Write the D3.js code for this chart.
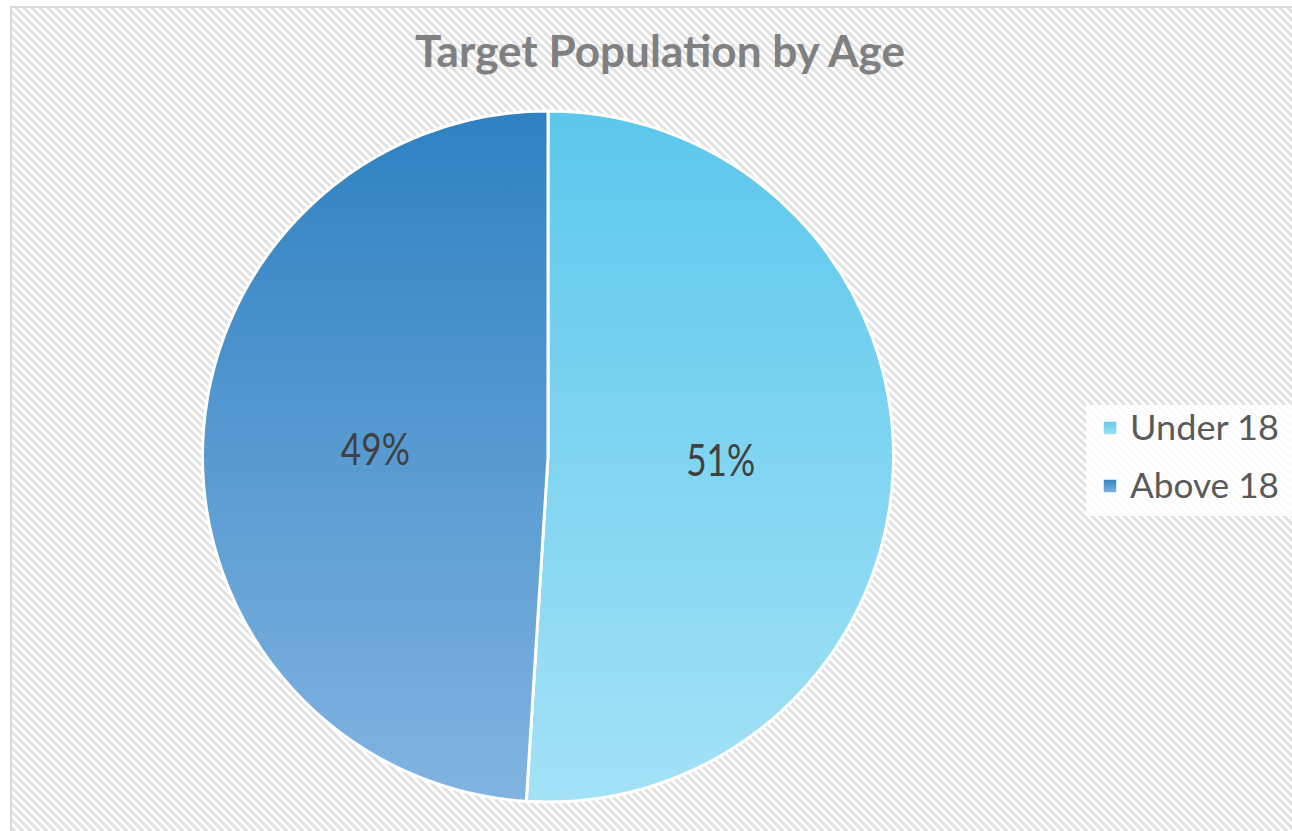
<!DOCTYPE html>
<html>
<head>
<meta charset="utf-8">
<script src="https://cdn.jsdelivr.net/npm/d3@7"></script>
<style>
  html, body { margin: 0; padding: 0; background: #ffffff; }
  svg { display: block; }
</style>
</head>
<body>
<svg id="chart" width="1292" height="831"></svg>
<script>
const title = "Target Population by Age";
const categories = ["Under 18", "Above 18"];
const values = [51, 49];
const labels = ["51%", "49%"];
const gradTop = ["#5BC7EC", "#2E81C1"];
const gradBottom = ["#A4E2F6", "#82B4E1"];

const W = 1292, H = 831;
const svg = d3.select("#chart");
const defs = svg.append("defs");

// hatch pattern background
const pat = defs.append("pattern")
  .attr("id", "hatch").attr("patternUnits", "userSpaceOnUse")
  .attr("width", 8).attr("height", 8);
pat.append("rect").attr("width", 8).attr("height", 8).attr("fill", "#ffffff");
pat.append("path")
  .attr("d", "M-2,-2 L10,10 M-2,6 L2,10 M6,-2 L10,2")
  .attr("stroke", "#e1e1e1").attr("stroke-width", 2.9);

svg.append("rect").attr("x", 11).attr("y", 7).attr("width", W).attr("height", H)
  .attr("fill", "url(#hatch)").attr("stroke", "#d9d9d9").attr("stroke-width", 2);

// title
svg.append("text").attr("x", 660).attr("y", 67)
  .attr("text-anchor", "middle")
  .attr("font-family", "Lato, 'Open Sans', sans-serif")
  .attr("font-weight", "bold").attr("font-size", 43)
  .attr("fill", "#808080")
  .attr("textLength", 490).attr("lengthAdjust", "spacingAndGlyphs")
  .text(title);

// pie
const cx = 548, cy = 456.5, r = 345.5;
const pie = d3.pie().sort(null).value(d => d)(values);
const arc = d3.arc().innerRadius(0).outerRadius(r);

categories.forEach((c, i) => {
  const g = defs.append("linearGradient").attr("id", "grad" + i)
    .attr("gradientUnits", "userSpaceOnUse")
    .attr("x1", 0).attr("y1", -r).attr("x2", 0).attr("y2", r);
  g.append("stop").attr("offset", "0%").attr("stop-color", gradTop[i]);
  g.append("stop").attr("offset", "100%").attr("stop-color", gradBottom[i]);
  const lg = defs.append("linearGradient").attr("id", "lgrad" + i)
    .attr("x1", 0).attr("y1", 0).attr("x2", 0).attr("y2", 1);
  lg.append("stop").attr("offset", "0%").attr("stop-color", gradTop[i]);
  lg.append("stop").attr("offset", "100%").attr("stop-color", gradBottom[i]);
});

const pg = svg.append("g").attr("transform", `translate(${cx},${cy})`);
pg.selectAll("path.slice").data(pie).enter().append("path")
  .attr("class", "slice")
  .attr("d", arc)
  .attr("fill", (d, i) => `url(#grad${i})`)
  .attr("stroke", "#ffffff").attr("stroke-width", 3).attr("stroke-linejoin", "round");

pg.selectAll("text.lbl").data(pie).enter().append("text")
  .attr("class", "lbl")
  .attr("transform", d => {
    const [x, y] = arc.centroid(d);
    return `translate(${x},${y + 14})`;
  })
  .attr("text-anchor", "middle")
  .attr("font-family", "Lato, 'Open Sans', sans-serif")
  .attr("font-size", 44).attr("fill", "#404040")
  .attr("textLength", 69).attr("lengthAdjust", "spacingAndGlyphs")
  .text((d, i) => labels[i]);

// legend
const lgd = svg.append("g");
lgd.append("rect").attr("x", 1086).attr("y", 405).attr("width", 220).attr("height", 111)
  .attr("fill", "#ffffff").attr("opacity", 0.85);
const rowY = [428, 486];
categories.forEach((c, i) => {
  lgd.append("rect").attr("x", 1103).attr("y", rowY[i] - 7).attr("width", 14).attr("height", 14)
    .attr("fill", `url(#lgrad${i})`).attr("stroke", "#ffffff").attr("stroke-width", 1.5);
  lgd.append("text").attr("x", 1130).attr("y", rowY[i] + 12)
    .attr("font-family", "Lato, 'Open Sans', sans-serif")
    .attr("font-size", 35).attr("fill", "#595959")
    .attr("textLength", 149).attr("lengthAdjust", "spacingAndGlyphs")
    .text(c);
});
</script>
</body>
</html>
